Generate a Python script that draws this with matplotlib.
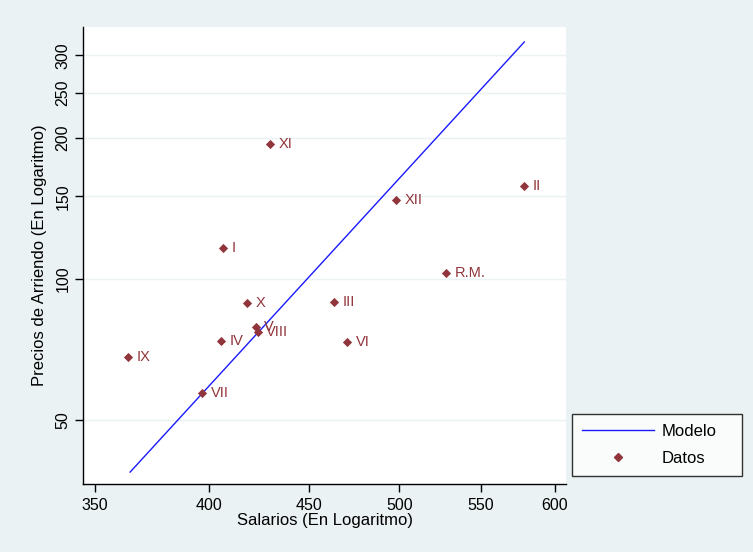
import matplotlib
matplotlib.use("Agg")
import matplotlib.pyplot as plt
from matplotlib.lines import Line2D

plt.rcParams['font.family'] = ['Liberation Sans', 'DejaVu Sans']

regions = ["XI", "II", "XII", "I", "R.M.", "X", "III", "V", "VIII", "IV", "VI", "IX", "VII"]
salarios = [429.7, 578.8, 498.1, 406.6, 528.2, 418.3, 463.2, 422.7, 423.7, 405.7, 470.3, 363.8, 396.8]
precios = [194.2, 158.0, 147.5, 116.5, 103.0, 88.9, 89.3, 79.0, 77.1, 73.7, 73.4, 68.2, 57.1]

modelo_x = [364.7, 578.8]
modelo_y = [38.7, 320.6]

xticks = [350, 400, 450, 500, 550, 600]
yticks = [50, 100, 150, 200, 250, 300]

bg = "#eaf2f3"
maroon = "#90353b"

fig = plt.figure(figsize=(7.53, 5.52), dpi=100, facecolor=bg)
ax = fig.add_axes([0.1102, 0.1232, 0.6415, 0.8278])
ax.set_facecolor("white")
ax.set_xscale("log")
ax.set_yscale("log")

ax.plot(modelo_x, modelo_y, color="#1a1aff", lw=1.0, zorder=3)
ax.scatter(salarios, precios, marker="D", s=22, color=maroon, zorder=4, linewidths=0)
for r, x, y in zip(regions, salarios, precios):
    ax.annotate(r, (x, y), xytext=(6, 0), textcoords="offset points",
                va="center", ha="left", color=maroon, fontsize=10.5)

ax.set_xlim(345.1, 607.8)
ax.set_ylim(36.5, 345)
ax.set_xticks(xticks)
ax.set_xticklabels([str(t) for t in xticks])
ax.set_yticks(yticks)
ax.set_yticklabels([str(t) for t in yticks], rotation=90, va="center")
ax.xaxis.set_minor_locator(matplotlib.ticker.NullLocator())
ax.yaxis.set_minor_locator(matplotlib.ticker.NullLocator())
ax.tick_params(axis="both", direction="out", length=6, width=1, labelsize=11.5, colors="black")
ax.tick_params(axis="x", pad=4)
ax.tick_params(axis="y", pad=3)
for t in yticks:
    ax.axhline(t, color=bg, lw=1.0, zorder=1)

for s in ["top", "right"]:
    ax.spines[s].set_visible(False)
for s in ["left", "bottom"]:
    ax.spines[s].set_linewidth(1.0)
    ax.spines[s].set_color("black")

ax.set_xlabel("Salarios (En Logaritmo)", fontsize=12, labelpad=0)
ax.set_ylabel("Precios de Arriendo (En Logaritmo)", fontsize=12, labelpad=6)

handles = [Line2D([0], [0], color="#1a1aff", lw=1.0),
           Line2D([0], [0], marker="D", color=maroon, lw=0, markersize=4.5)]
leg = fig.legend(handles, ["Modelo", "Datos"], loc="lower left",
                 bbox_to_anchor=(0.7596, 0.1377, 0.2258, 0.112), mode="expand",
                 fontsize=12, frameon=True, fancybox=False, handlelength=4.3,
                 borderaxespad=0, borderpad=0.6, labelspacing=0.7, handletextpad=0.5)
leg.get_frame().set_edgecolor("black")
leg.get_frame().set_linewidth(1.0)
leg.get_frame().set_facecolor("white")

fig.savefig("out.png", dpi=100, facecolor=bg)
